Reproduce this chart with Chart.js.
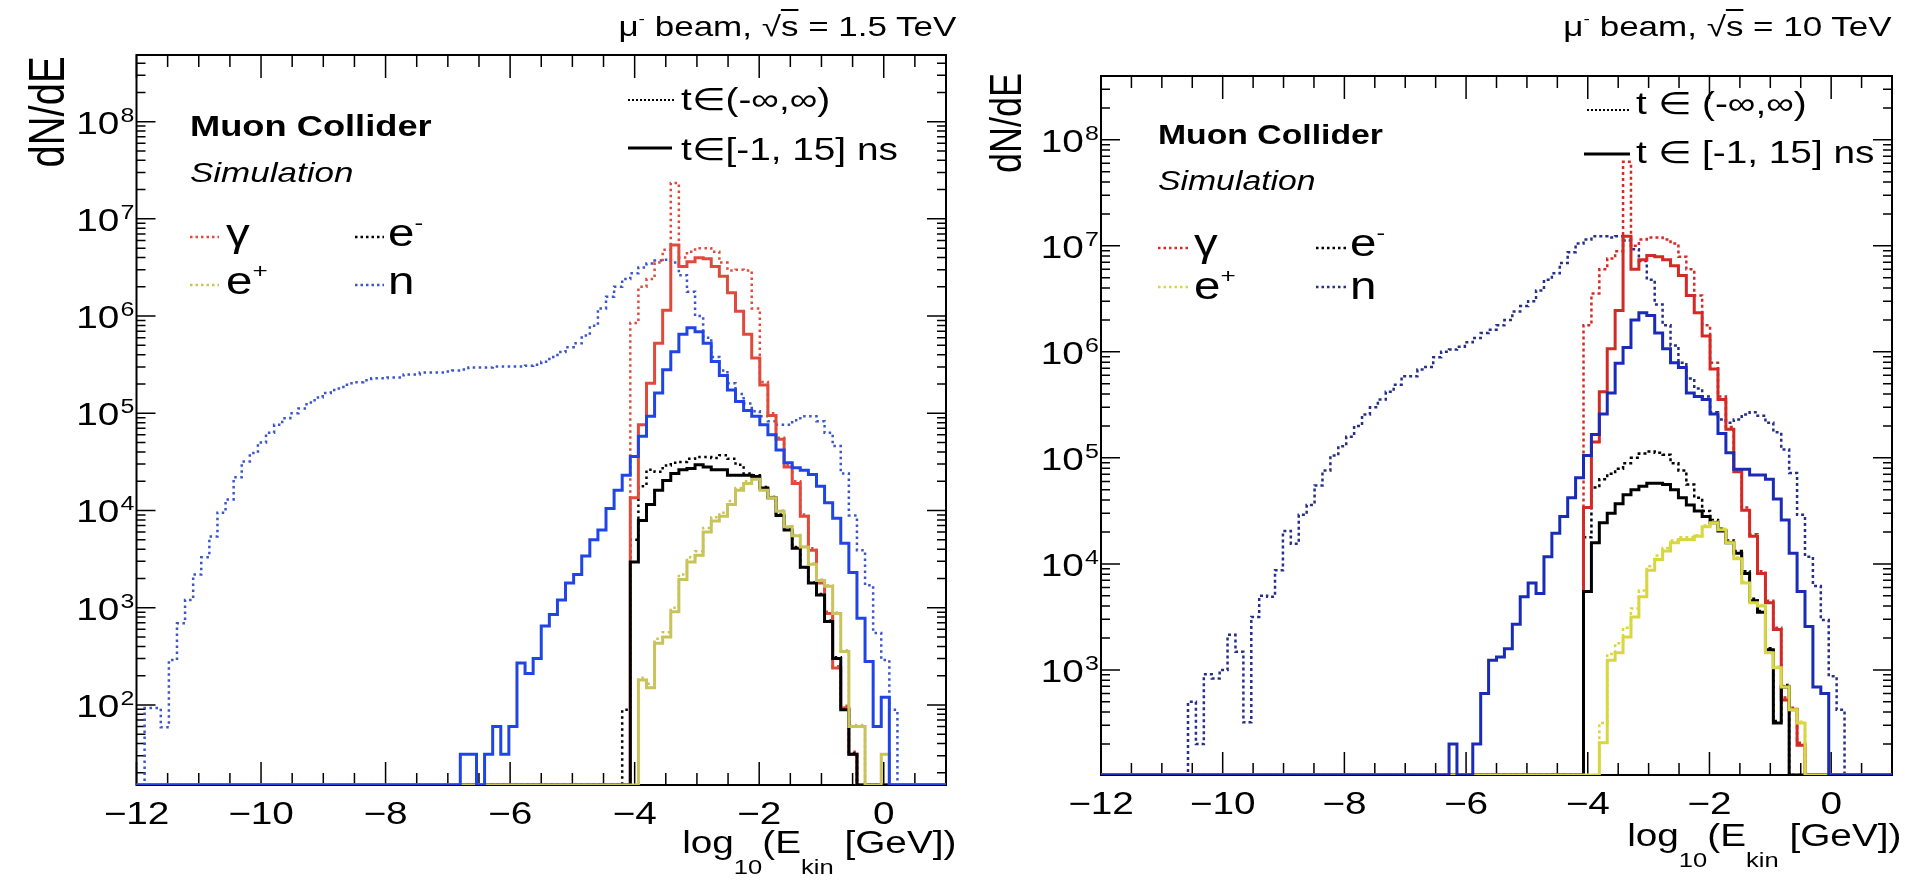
<!DOCTYPE html>
<html>
<head>
<meta charset="utf-8">
<script src="https://cdn.jsdelivr.net/npm/chart.js@4.4.1/dist/chart.umd.min.js"></script>
<style>
html,body{margin:0;padding:0;background:#fff;}
body{width:1905px;height:883px;position:relative;overflow:hidden;font-family:"Liberation Sans",Arial,Helvetica,sans-serif;color:#000;}
.cv{position:absolute;left:0;top:0;width:1905px;height:883px;}
.t{position:absolute;white-space:nowrap;line-height:1;}
.L{transform-origin:left center;transform:scaleX(1.25);}
.R{transform-origin:right center;transform:scaleX(1.25);}
.sp{font-size:0.55em;position:relative;top:-0.75em;}
.sb{font-size:0.66em;position:relative;top:1.05em;}
.ov{border-top:2px solid #000;}
svg{position:absolute;left:0;top:0;}
</style>
</head>
<body>
<div class="cv"><canvas id="c1" width="1905" height="883"></canvas></div>
<div class="cv"><canvas id="c2" width="1905" height="883"></canvas></div>

<svg width="1905" height="883">
  <line x1="190" y1="237" x2="219" y2="237" stroke="#e04a3c" stroke-width="2.5" stroke-dasharray="2.5 3"/>
  <line x1="190" y1="285" x2="219" y2="285" stroke="#c9c35b" stroke-width="2.5" stroke-dasharray="2.5 3"/>
  <line x1="355" y1="237" x2="384" y2="237" stroke="#000" stroke-width="2.5" stroke-dasharray="2.5 3"/>
  <line x1="355" y1="285" x2="384" y2="285" stroke="#3b55cc" stroke-width="2.5" stroke-dasharray="2.5 3"/>
  <line x1="628" y1="100" x2="675" y2="100" stroke="#000" stroke-width="2" stroke-dasharray="2 2"/>
  <line x1="628" y1="148" x2="672" y2="148" stroke="#000" stroke-width="3"/>
  <line x1="1158" y1="248" x2="1188" y2="248" stroke="#d42a26" stroke-width="2.5" stroke-dasharray="2.5 3"/>
  <line x1="1158" y1="287" x2="1188" y2="287" stroke="#d9d740" stroke-width="2.5" stroke-dasharray="2.5 3"/>
  <line x1="1316" y1="248" x2="1346" y2="248" stroke="#000" stroke-width="2.5" stroke-dasharray="2.5 3"/>
  <line x1="1316" y1="287" x2="1346" y2="287" stroke="#262f8a" stroke-width="2.5" stroke-dasharray="2.5 3"/>
  <line x1="1587" y1="110" x2="1630" y2="110" stroke="#000" stroke-width="2" stroke-dasharray="2 2"/>
  <line x1="1584" y1="154" x2="1630" y2="154" stroke="#000" stroke-width="3"/>
</svg>

<!-- left panel texts -->
<div class="t R" style="right:949px;top:13px;font-size:28px;">μ<span class="sp">-</span> beam, √<span class="ov">s</span> = 1.5 TeV</div>
<div class="t" style="left:46px;top:112px;font-size:40px;transform-origin:0 0;transform:scaleX(1.25) rotate(-90deg) translate(-50%,-50%);">dN/dE</div>
<div class="t L" style="left:190px;top:112px;font-size:29px;font-weight:bold;">Muon Collider</div>
<div class="t L" style="left:190px;top:159px;font-size:28px;font-style:italic;">Simulation</div>
<div class="t L" style="left:226px;top:214px;font-size:38px;">γ</div>
<div class="t L" style="left:388px;top:214px;font-size:38px;">e<span class="sp">-</span></div>
<div class="t L" style="left:226px;top:262px;font-size:38px;">e<span class="sp">+</span></div>
<div class="t L" style="left:388px;top:262px;font-size:38px;">n</div>
<div class="t L" style="left:681px;top:84px;font-size:31px;">t∈(-∞,∞)</div>
<div class="t L" style="left:681px;top:134px;font-size:31px;">t∈[-1, 15] ns</div>
<div class="t R" style="right:949px;top:827px;font-size:31px;">log<span class="sb">10</span>(E<span class="sb">kin</span> [GeV])</div>

<!-- right panel texts -->
<div class="t R" style="right:13px;top:13px;font-size:28px;">μ<span class="sp">-</span> beam, √<span class="ov">s</span> = 10 TeV</div>
<div class="t" style="left:1006px;top:123px;font-size:36px;transform-origin:0 0;transform:scaleX(1.25) rotate(-90deg) translate(-50%,-50%);">dN/dE</div>
<div class="t L" style="left:1158px;top:122px;font-size:27px;font-weight:bold;">Muon Collider</div>
<div class="t L" style="left:1158px;top:168px;font-size:27px;font-style:italic;">Simulation</div>
<div class="t L" style="left:1194px;top:224px;font-size:38px;">γ</div>
<div class="t L" style="left:1350px;top:224px;font-size:38px;">e<span class="sp">-</span></div>
<div class="t L" style="left:1194px;top:267px;font-size:38px;">e<span class="sp">+</span></div>
<div class="t L" style="left:1350px;top:267px;font-size:38px;">n</div>
<div class="t L" style="left:1636px;top:88px;font-size:31px;">t ∈ (-∞,∞)</div>
<div class="t L" style="left:1636px;top:137px;font-size:31px;">t ∈ [-1, 15] ns</div>
<div class="t R" style="right:4px;top:820px;font-size:31px;">log<span class="sb">10</span>(E<span class="sb">kin</span> [GeV])</div>

<script>
// ---------------- binning (categories) ----------------
const X_MIN = -12, BIN_WIDTH = 0.13, N_BINS = 100;
const BIN_EDGES = Array.from({length: N_BINS + 1}, (_, i) => X_MIN + BIN_WIDTH * i);

// ---------------- tick labels ----------------
const X_TICKS = [-12, -10, -8, -6, -4, -2, 0];
const X_TICK_LABELS = ['\u221212', '\u221210', '\u22128', '\u22126', '\u22124', '\u22122', '0'];
const L_Y_TICKS = [1e2, 1e3, 1e4, 1e5, 1e6, 1e7, 1e8];
const L_Y_EXPS = ['2', '3', '4', '5', '6', '7', '8'];
const R_Y_TICKS = [1e3, 1e4, 1e5, 1e6, 1e7, 1e8];
const R_Y_EXPS = ['3', '4', '5', '6', '7', '8'];

// ---------------- LEFT panel: mu- beam, sqrt(s) = 1.5 TeV (counts per bin, first bin index given) ----------------
const L_N_ALL_START = 1;
const L_N_ALL = [93, 93, 59, 290, 690, 1200, 2200, 3300, 5400, 9500,
  1.3e4, 2.2e4, 3.2e4, 3.9e4, 5.0e4, 6.3e4, 7.6e4, 8.9e4, 1.0e5, 1.12e5,
  1.29e5, 1.45e5, 1.62e5, 1.74e5, 1.86e5, 2.04e5, 2.09e5, 2.19e5, 2.29e5, 2.29e5,
  2.34e5, 2.34e5, 2.51e5, 2.51e5, 2.63e5, 2.63e5, 2.63e5, 2.69e5, 2.75e5, 2.82e5,
  2.95e5, 2.95e5, 2.95e5, 3.02e5, 3.02e5, 3.02e5, 3.02e5, 3.09e5, 3.16e5, 3.39e5,
  3.8e5, 4.27e5, 4.79e5, 5.25e5, 6.31e5, 7.94e5, 1.2e6, 1.58e6, 2.0e6, 2.4e6,
  2.75e6, 3.16e6, 3.47e6, 3.72e6, 3.8e6, 3.55e6, 2.63e6, 1.78e6, 1.0e6, 6.0e5,
  3.8e5, 2.75e5, 2.04e5, 1.58e5, 1.26e5, 1.05e5, 9.3e4, 8.3e4, 7.6e4, 7.6e4,
  8.5e4, 9.3e4, 9.3e4, 8.3e4, 6.3e4, 4.6e4, 2.4e4, 8900, 3900, 1700,
  550, 290, 89];
const L_N_T_START = 40;
const L_N_T = [31, 31, 0, 31, 60, 31, 60, 270, 210, 300,
  650, 850, 1200, 1800, 2200, 3400, 5000, 6300, 1.05e4, 1.62e4,
  2.3e4, 3.6e4, 5.8e4, 9.3e4, 1.62e5, 2.8e5, 4.3e5, 6.5e5, 7.6e5, 6.9e5,
  5.25e5, 3.4e5, 2.45e5, 1.74e5, 1.32e5, 1.07e5, 9.3e4, 7.6e4, 6.0e4, 4.2e4,
  3.1e4, 2.75e4, 2.6e4, 2.35e4, 1.78e4, 1.2e4, 8300, 4600, 2300, 780,
  280, 60, 120];
const L_G_T_START = 61;
const L_G_T = [1.35e4, 7.6e4, 2.04e5, 5.25e5, 1.15e6, 5.4e6, 3.24e6, 3.63e6, 3.98e6, 3.89e6,
  3.24e6, 2.57e6, 1.74e6, 1.12e6, 6.5e5, 3.7e5, 1.95e5, 9.5e4, 5.4e4, 2.8e4,
  1.9e4, 8700, 3900, 1800, 870, 240, 93, 31];
const L_G_ALL_START = 61;
const L_G_ALL = [8.5e5, 2.0e6, 2.4e6, 3.55e6, 4.8e6, 2.34e7, 4.0e6, 4.6e6, 5.0e6, 5.0e6,
  4.6e6, 3.55e6, 2.95e6, 3.0e6, 2.95e6, 1.2e6, 2.1e5, 1.0e5, 5.6e4, 2.95e4,
  2.0e4, 9100, 4100, 1860, 910, 250, 98, 33];
const L_E_T_START = 61;
const L_E_T = [2950, 7900, 1.15e4, 1.62e4, 2.04e4, 2.4e4, 2.63e4, 2.7e4, 2.95e4, 2.8e4,
  2.63e4, 2.63e4, 2.3e4, 2.3e4, 2.3e4, 2.24e4, 1.7e4, 1.35e4, 8900, 6300,
  4100, 2600, 1800, 1350, 720, 300, 89, 31];
const L_E_ALL_START = 60;
const L_E_ALL = [89, 5000, 1.78e4, 2.63e4, 2.5e4, 2.9e4, 3.1e4, 3.16e4, 3.4e4, 3.55e4,
  3.55e4, 3.47e4, 3.7e4, 3.4e4, 2.95e4, 2.4e4, 2.3e4, 1.74e4, 1.38e4, 9100,
  6500, 4200, 2600, 1820, 1380, 740, 310, 93, 32];
const L_P_T_START = 62;
const L_P_T = [180, 150, 430, 500, 910, 1950, 2950, 3470, 6000, 7800,
  8700, 1.15e4, 1.62e4, 1.9e4, 2.1e4, 1.62e4, 1.35e4, 9800, 6800, 5500,
  4200, 2800, 1900, 1660, 870, 355, 60, 60, 0, 0, 31];
const L_P_ALL_START = 62;
const L_P_ALL = [190, 165, 480, 560, 1000, 2200, 3300, 3800, 6600, 8500,
  9500, 1.25e4, 1.7e4, 2.0e4, 2.15e4, 1.65e4, 1.38e4, 1.0e4, 6900, 5600,
  4300, 2850, 1950, 1700, 890, 365, 62, 62, 0, 0, 31];

// ---------------- RIGHT panel: mu- beam, sqrt(s) = 10 TeV ----------------
const R_N_ALL_START = 11;
const R_N_ALL = [500, 200, 910, 830, 1000, 2140, 1480, 320, 3160, 5000,
  4900, 8700, 2.04e4, 1.55e4, 2.9e4, 3.6e4, 5.5e4, 7.6e4, 1.05e5, 1.29e5,
  1.58e5, 2.0e5, 2.57e5, 3.0e5, 3.55e5, 4.2e5, 4.9e5, 5.9e5, 5.9e5, 6.8e5,
  7.2e5, 8.9e5, 1.0e6, 1.05e6, 1.12e6, 1.23e6, 1.35e6, 1.51e6, 1.62e6, 1.78e6,
  2.0e6, 2.4e6, 2.7e6, 3.0e6, 3.8e6, 4.8e6, 5.5e6, 6.9e6, 8.7e6, 1.05e7,
  1.15e7, 1.23e7, 1.23e7, 1.2e7, 1.23e7, 1.12e7, 9.3e6, 7.2e6, 4.8e6, 2.8e6,
  1.78e6, 1.15e6, 7.9e5, 5.6e5, 4.5e5, 3.8e5, 2.7e5, 2.3e5, 2.14e5, 2.3e5,
  2.57e5, 2.7e5, 2.5e5, 2.14e5, 1.74e5, 1.2e5, 7.2e4, 2.9e4, 1.17e4, 6200,
  2950, 870, 420];
const R_N_T_START = 44;
const R_N_T = [200, 0, 0, 200, 600, 1230, 1320, 1580, 2700, 4900,
  6600, 5250, 1.17e4, 1.95e4, 2.8e4, 4.2e4, 6.5e4, 1.05e5, 1.66e5, 2.6e5,
  4.1e5, 7.8e5, 1.1e6, 2.0e6, 2.34e6, 2.2e6, 1.51e6, 1.07e6, 7.9e5, 7.1e5,
  4.1e5, 3.8e5, 3.55e5, 2.6e5, 1.7e5, 1.12e5, 7.8e4, 7.8e4, 6.9e4, 6.9e4,
  6.3e4, 4.1e4, 2.6e4, 1.26e4, 5500, 2570, 690, 600];
const R_G_T_START = 61;
const R_G_T = [3.4e4, 1.41e5, 4.2e5, 1.07e6, 2.45e6, 1.23e7, 6.0e6, 7.4e6, 8.1e6, 7.9e6,
  7.4e6, 6.5e6, 5.25e6, 3.4e6, 2.34e6, 1.41e6, 6.9e5, 3.55e5, 1.86e5, 7.4e4,
  3.2e4, 1.82e4, 8100, 4300, 2400, 520, 420, 195];
const R_G_ALL_START = 61;
const R_G_ALL = [1.78e6, 3.55e6, 6.0e6, 7.6e6, 8.9e6, 6.2e7, 1.0e7, 1.15e7, 1.2e7, 1.2e7,
  1.15e7, 1.05e7, 7.9e6, 6.0e6, 3.4e6, 1.78e6, 7.9e5, 3.8e5, 1.95e5, 7.8e4,
  3.4e4, 1.9e4, 8500, 4500, 2500, 550, 440, 205];
const R_E_T_START = 61;
const R_E_T = [5500, 1.58e4, 2.45e4, 3.0e4, 3.7e4, 4.5e4, 5.0e4, 5.4e4, 5.75e4, 5.75e4,
  5.6e4, 5.0e4, 4.2e4, 3.6e4, 3.16e4, 2.8e4, 2.45e4, 2.04e4, 1.58e4, 1.26e4,
  8100, 4500, 3500, 1550, 316, 690];
const R_E_ALL_START = 61;
const R_E_ALL = [1.78e4, 5.25e4, 6.3e4, 7.1e4, 7.9e4, 8.9e4, 1.0e5, 1.1e5, 1.15e5, 1.12e5,
  1.07e5, 8.9e4, 7.6e4, 5.6e4, 4.2e4, 3.16e4, 2.6e4, 2.14e4, 1.66e4, 1.32e4,
  8500, 4700, 3600, 1600, 330, 720];
const R_P_T_START = 63;
const R_P_T = [205, 1230, 1450, 2040, 3160, 4900, 8700, 1.1e4, 1.32e4, 1.58e4,
  1.7e4, 1.7e4, 1.82e4, 2.24e4, 2.45e4, 2.1e4, 1.58e4, 1.12e4, 6600, 4300,
  4000, 1450, 1050, 690, 420, 316];
const R_P_ALL_START = 63;
const R_P_ALL = [316, 1410, 1780, 2500, 3800, 5600, 9500, 1.2e4, 1.41e4, 1.66e4,
  1.78e4, 1.78e4, 1.86e4, 2.3e4, 2.5e4, 2.14e4, 1.62e4, 1.15e4, 6800, 4400,
  4100, 1480, 1070, 710, 430, 324];

// ---------------- helpers ----------------
const TEXT_SX = 1.25;
const FONT = '"Liberation Sans", Arial, Helvetica, sans-serif';

function histPoints(start, counts, yFloor) {
  const pts = [];
  for (let i = 0; i < N_BINS; i++) {
    const c = (i >= start && i < start + counts.length) ? counts[i - start] : 0;
    pts.push({x: BIN_EDGES[i], y: c > yFloor ? c : yFloor});
  }
  pts.push({x: BIN_EDGES[N_BINS], y: pts[N_BINS - 1].y});
  return pts;
}

const rootAxes = {
  id: 'rootAxes',
  beforeDatasetsDraw(chart, args, o) {
    const {ctx, chartArea: a} = chart;
    const xs = chart.scales.x, ys = chart.scales.y;
    ctx.save();
    ctx.strokeStyle = '#000';
    ctx.lineWidth = 1.5;
    ctx.beginPath();
    for (let k = 0; ; k++) {
      const v = xs.min + k * o.xMinorStep;
      if (v > xs.max + 1e-9) break;
      const px = xs.getPixelForValue(v);
      const major = X_TICKS.some(t => Math.abs(t - v) < 1e-6);
      const len = major ? o.xMajorLen : o.xMinorLen;
      ctx.moveTo(px, a.bottom); ctx.lineTo(px, a.bottom - len);
      ctx.moveTo(px, a.top); ctx.lineTo(px, a.top + len);
    }
    const d0 = Math.floor(Math.log10(ys.min)), d1 = Math.ceil(Math.log10(ys.max));
    for (let d = d0; d <= d1; d++) {
      for (let m = 1; m <= 9; m++) {
        const v = m * Math.pow(10, d);
        if (v < ys.min || v > ys.max) continue;
        const py = ys.getPixelForValue(v);
        const len = m === 1 ? o.yMajorLen : o.yMinorLen;
        ctx.moveTo(a.left, py); ctx.lineTo(a.left + len, py);
        ctx.moveTo(a.right, py); ctx.lineTo(a.right - len, py);
      }
    }
    ctx.stroke();
    ctx.lineWidth = 2;
    ctx.strokeRect(a.left, a.top, a.right - a.left, a.bottom - a.top);
    ctx.restore();
  },
  afterDraw(chart, args, o) {
    const {ctx, chartArea: a} = chart;
    const xs = chart.scales.x, ys = chart.scales.y;
    ctx.save();
    ctx.fillStyle = '#000';
    ctx.textBaseline = 'alphabetic';
    ctx.font = o.xFont + 'px ' + FONT;
    ctx.textAlign = 'center';
    X_TICKS.forEach((v, i) => {
      ctx.save();
      ctx.translate(xs.getPixelForValue(v), o.xLabelBaseline);
      ctx.scale(TEXT_SX, 1);
      ctx.fillText(X_TICK_LABELS[i], 0, 0);
      ctx.restore();
    });
    ctx.textAlign = 'right';
    o.yTicks.forEach((v, i) => {
      const py = ys.getPixelForValue(v);
      ctx.save();
      ctx.translate(a.left - o.yLabelGap, py);
      ctx.scale(TEXT_SX, 1);
      ctx.font = o.ySupFont + 'px ' + FONT;
      const w = ctx.measureText(o.yExps[i]).width;
      ctx.fillText(o.yExps[i], 0, o.ySupDy);
      ctx.font = o.yFont + 'px ' + FONT;
      ctx.fillText('10', -w - 1, o.yBaseDy);
      ctx.restore();
    });
    ctx.restore();
  }
};

function makePanel(canvasId, P) {
  const ds = P.series.map(s => ({
    label: s.label,
    data: histPoints(s.start, s.counts, P.yMin),
    borderColor: s.color,
    borderWidth: s.width,
    borderDash: s.dash || [],
    stepped: 'before',
    pointRadius: 0,
    fill: false,
    tension: 0,
    order: s.order,
    borderCapStyle: 'butt',
    borderJoinStyle: 'miter'
  }));
  return new Chart(document.getElementById(canvasId), {
    type: 'line',
    data: {datasets: ds},
    options: {
      responsive: false,
      animation: false,
      devicePixelRatio: 1,
      events: [],
      layout: {padding: P.padding},
      plugins: {
        legend: {display: false},
        tooltip: {enabled: false},
        rootAxes: P.axes
      },
      scales: {
        x: {type: 'linear', min: X_MIN, max: 1, display: false},
        y: {type: 'logarithmic', min: P.yMin, max: P.yMax, display: false}
      }
    },
    plugins: [rootAxes]
  });
}

const DOT_L = [2.5, 3.5];
const DOT_R = [3, 3];

makePanel('c1', {
  yMin: 15, yMax: 4.85e8,
  padding: {left: 136.5, right: 959, top: 55, bottom: 98},
  axes: {xMinorStep: 0.5, xMajorLen: 23, xMinorLen: 12, yMajorLen: 19, yMinorLen: 9,
         xFont: 31, xLabelBaseline: 824, yTicks: L_Y_TICKS, yExps: L_Y_EXPS,
         yFont: 31, ySupFont: 20, yLabelGap: 2, yBaseDy: 12, ySupDy: 0},
  series: [
    {label: 'n, t all', start: L_N_ALL_START, counts: L_N_ALL, color: '#3b55cc', width: 2.5, dash: DOT_L, order: 7},
    {label: 'gamma, t all', start: L_G_ALL_START, counts: L_G_ALL, color: '#e04a3c', width: 2.5, dash: DOT_L, order: 6},
    {label: 'e-, t all', start: L_E_ALL_START, counts: L_E_ALL, color: '#000000', width: 2.5, dash: DOT_L, order: 5},
    {label: 'e+, t all', start: L_P_ALL_START, counts: L_P_ALL, color: '#c9c35b', width: 2.5, dash: DOT_L, order: 4},
    {label: 'gamma, t in [-1,15] ns', start: L_G_T_START, counts: L_G_T, color: '#e04a3c', width: 3, order: 3},
    {label: 'e-, t in [-1,15] ns', start: L_E_T_START, counts: L_E_T, color: '#000000', width: 3, order: 2},
    {label: 'e+, t in [-1,15] ns', start: L_P_T_START, counts: L_P_T, color: '#c9c35b', width: 3, order: 1},
    {label: 'n, t in [-1,15] ns', start: L_N_T_START, counts: L_N_T, color: '#1f45e6', width: 3, order: 0}
  ]
});

makePanel('c2', {
  yMin: 102, yMax: 4.0e8,
  padding: {left: 1101, right: 13, top: 76, bottom: 108},
  axes: {xMinorStep: 0.5, xMajorLen: 23, xMinorLen: 12, yMajorLen: 19, yMinorLen: 9,
         xFont: 31, xLabelBaseline: 814, yTicks: R_Y_TICKS, yExps: R_Y_EXPS,
         yFont: 31, ySupFont: 20, yLabelGap: 2, yBaseDy: 12, ySupDy: 0},
  series: [
    {label: 'n, t all', start: R_N_ALL_START, counts: R_N_ALL, color: '#262f8a', width: 2.5, dash: DOT_R, order: 7},
    {label: 'gamma, t all', start: R_G_ALL_START, counts: R_G_ALL, color: '#d42a26', width: 2.5, dash: DOT_R, order: 6},
    {label: 'e-, t all', start: R_E_ALL_START, counts: R_E_ALL, color: '#000000', width: 2.5, dash: DOT_R, order: 5},
    {label: 'e+, t all', start: R_P_ALL_START, counts: R_P_ALL, color: '#d9d740', width: 2.5, dash: DOT_R, order: 4},
    {label: 'gamma, t in [-1,15] ns', start: R_G_T_START, counts: R_G_T, color: '#d42a26', width: 3, order: 3},
    {label: 'e-, t in [-1,15] ns', start: R_E_T_START, counts: R_E_T, color: '#000000', width: 3, order: 2},
    {label: 'e+, t in [-1,15] ns', start: R_P_T_START, counts: R_P_T, color: '#d9d740', width: 3, order: 1},
    {label: 'n, t in [-1,15] ns', start: R_N_T_START, counts: R_N_T, color: '#1a2bb8', width: 3, order: 0}
  ]
});
</script>
</body>
</html>
